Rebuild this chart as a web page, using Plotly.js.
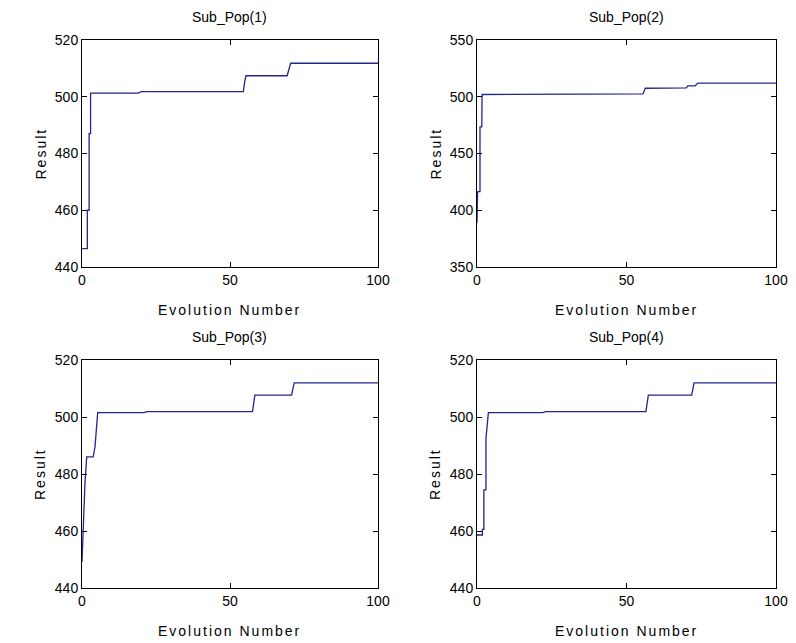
<!DOCTYPE html>
<html>
<head>
<meta charset="utf-8">
<script src="https://cdn.plot.ly/plotly-3.0.1.min.js"></script>
<style>html,body{margin:0;padding:0;background:#fff;}#chart{width:796px;height:643px;}</style>
</head>
<body>
<div id="chart"></div>
<script>
// Sub_Pop(1)
const x1 = [0, 1.8, 1.8, 2.4, 2.4, 2.9, 2.9, 19, 20, 54.5, 55, 55.4, 69.3, 69.8, 70.5, 100];
const y1 = [446.5, 446.5, 460, 460, 487, 487, 501.3, 501.3, 501.8, 501.8, 505.6, 507.4, 507.4, 509.5, 511.8, 511.8];
// Sub_Pop(2)
const x2 = [0, 0.2, 0.2, 1.0, 1.0, 1.6, 1.7, 55.5, 56.3, 70, 70.5, 73, 73.8, 100];
const y2 = [389, 416, 416.4, 416.4, 473.4, 473.4, 502, 502.5, 507.5, 507.8, 509.5, 509.7, 512, 512];
// Sub_Pop(3)
const x3 = [0, 0.4, 1.0, 1.6, 3.8, 4.4, 5.0, 5.3, 21, 22, 57.6, 58, 58.4, 70.8, 71.2, 71.7, 100];
const y3 = [449.2, 460.4, 476.7, 486, 486, 489.6, 497.4, 501.5, 501.5, 501.9, 501.9, 505.9, 507.7, 507.7, 510, 512, 512];
// Sub_Pop(4)
const x4 = [0, 1.8, 1.8, 2.3, 2.3, 3.0, 3.0, 3.8, 22, 23, 56.5, 56.9, 57.3, 71.8, 72.2, 72.6, 100];
const y4 = [458.6, 458.6, 460.6, 460.6, 474.4, 474.4, 492.5, 501.5, 501.5, 501.9, 501.9, 506, 507.7, 507.7, 510, 512, 512];

const titles = ["Sub_Pop(1)", "Sub_Pop(2)", "Sub_Pop(3)", "Sub_Pop(4)"];
const xTitle = "Evolution Number";
const yTitle = "Result";
const xTicks = [0, 50, 100];
const yTicksA = [440, 460, 480, 500, 520];
const yTicksB = [350, 400, 450, 500, 550];

const W = 796, H = 643;
const boxes = [
  {l: 82, r: 378, t: 40, b: 267, yr: [440, 520], yt: yTicksA},
  {l: 477, r: 776, t: 40, b: 267, yr: [350, 550], yt: yTicksB},
  {l: 82, r: 378, t: 360, b: 588, yr: [440, 520], yt: yTicksA},
  {l: 477, r: 776, t: 360, b: 588, yr: [440, 520], yt: yTicksA}
];
const xs = [x1, x2, x3, x4], ys = [y1, y2, y3, y4];
const lineColor = '#25258c';
const font = {family: 'Liberation Sans, Arial, sans-serif', size: 14, color: '#000'};
const spaced = t => '<span style="letter-spacing:2px">' + t + '</span>';

const data = [];
const layout = {
  width: W, height: H, showlegend: false,
  margin: {l: 0, r: 0, t: 0, b: 0},
  paper_bgcolor: '#fff', plot_bgcolor: '#fff',
  font: font, annotations: []
};
boxes.forEach((bx, i) => {
  const n = i + 1;
  const xa = n === 1 ? 'x' : 'x' + n;
  const ya = n === 1 ? 'y' : 'y' + n;
  data.push({x: xs[i], y: ys[i], type: 'scatter', mode: 'lines',
    line: {color: lineColor, width: 1.3}, xaxis: xa, yaxis: ya, hoverinfo: 'skip'});
  const common = {showline: true, linecolor: '#000', linewidth: 1, mirror: 'ticks',
    ticks: 'inside', ticklen: 5, tickcolor: '#000', showgrid: false, zeroline: false,
    tickfont: font, fixedrange: true};
  layout['xaxis' + (n === 1 ? '' : n)] = Object.assign({}, common, {
    domain: [bx.l / W, bx.r / W], range: [0, 100], tickvals: xTicks,
    anchor: ya});
  layout['yaxis' + (n === 1 ? '' : n)] = Object.assign({}, common, {
    domain: [1 - bx.b / H, 1 - bx.t / H], range: bx.yr, tickvals: bx.yt,
    anchor: xa});
  const cx = (bx.l + bx.r) / 2;
  layout.annotations.push({text: titles[i], xref: 'paper', yref: 'paper',
    x: cx / W, y: 1 - (bx.t - 23) / H, showarrow: false, font: font,
    xanchor: 'center', yanchor: 'middle'});
  layout.annotations.push({text: spaced(xTitle), xref: 'paper', yref: 'paper',
    x: cx / W, y: 1 - (bx.b + 43) / H, showarrow: false, font: font,
    xanchor: 'center', yanchor: 'middle'});
  layout.annotations.push({text: spaced(yTitle), xref: 'paper', yref: 'paper',
    x: (bx.l - 42) / W, y: 1 - ((bx.t + bx.b) / 2) / H, showarrow: false, font: font,
    textangle: -90, xanchor: 'center', yanchor: 'middle'});
});
Plotly.newPlot('chart', data, layout, {staticPlot: true, displayModeBar: false});
</script>
</body>
</html>
